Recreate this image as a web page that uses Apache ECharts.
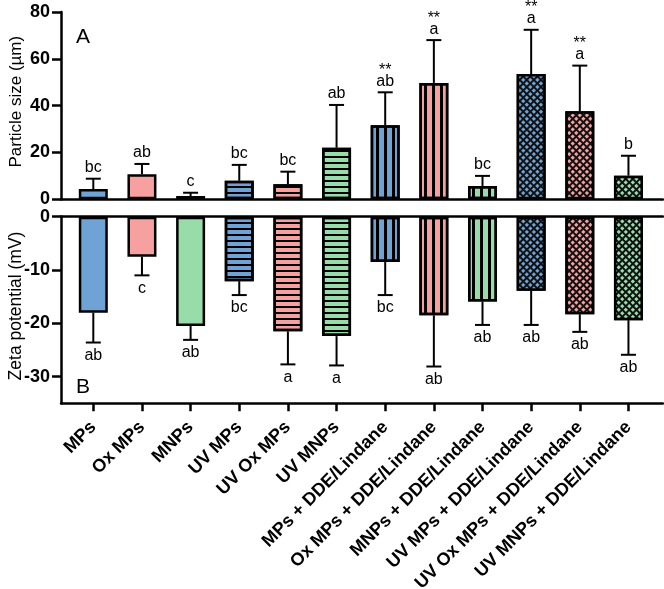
<!DOCTYPE html>
<html><head><meta charset="utf-8">
<script src="https://cdn.jsdelivr.net/npm/echarts@6/dist/echarts.min.js"></script>
<style>html,body{margin:0;padding:0;background:#fff}#c{width:664px;height:589px}</style>
</head><body><div id="c"></div>
<script>
// ---- data ----
const categories = ['MPs','Ox MPs','MNPs','UV MPs','UV Ox MPs','UV MNPs',
  'MPs + DDE/Lindane','Ox MPs + DDE/Lindane','MNPs + DDE/Lindane',
  'UV MPs + DDE/Lindane','UV Ox MPs + DDE/Lindane','UV MNPs + DDE/Lindane'];
const sizeMean = [4.4, 10.7, 1.4, 7.9, 6.4, 22.0, 31.6, 49.7, 5.7, 53.5, 37.6, 10.1];
const sizeSD   = [4.4, 4.4, 1.4, 6.8, 5.4, 18.3, 14.1, 18.3, 4.3, 18.9, 19.5, 8.5];
const sizeLetters = ['bc','ab','c','bc','bc','ab','ab','a','bc','a','a','b'];
const sizeStars   = ['','','','','','','**','**','','**','**',''];
const zetaMean = [-18.0, -7.5, -20.5, -12.1, -21.5, -22.4, -8.5, -18.5, -15.9, -13.9, -18.3, -19.4];
const zetaSD   = [5.6, 3.5, 2.6, 2.6, 6.2, 5.5, 6.2, 9.6, 4.4, 6.4, 3.3, 6.5];
const zetaLetters = ['ab','c','ab','bc','a','a','bc','ab','ab','ab','ab','ab'];
const sizeTicks = [0, 20, 40, 60, 80];
const zetaTicks = [0, -10, -20, -30];

// ---- styling ----
const FONT = '"Liberation Sans", Arial, sans-serif';
const palette = ['#6FA3D6', '#F7A0A0', '#97DDA9'];
const xMin = -0.664, xMax = 11.71;
const catIdx = categories.map((c, i) => i);

function itemStyleFor(i) {
  const c = palette[i % 3];
  const g = Math.floor(i / 3);
  const s = { color: c, borderColor: '#000', borderWidth: 2.5 };
  if (g === 1) s.decal = { symbol: 'rect', symbolSize: 1, color: '#000', dashArrayX: [[10, 0]], dashArrayY: [2, 4] };
  if (g === 2) s.decal = { symbol: 'rect', symbolSize: 1, color: '#000', dashArrayX: [[3, 5]], dashArrayY: [10, 0] };
  if (g === 3) {
    s.color = '#111';
    s.decal = { symbol: 'rect', symbolSize: 1, color: c, dashArrayX: [[3, 2]], dashArrayY: [3, 2], rotation: Math.PI / 4 };
  }
  return s;
}

function barData(means) {
  return means.map((v, i) => ({ value: [i, v], itemStyle: itemStyleFor(i) }));
}
function errData(means, sds) {
  return means.map((v, i) => [i, v, v >= 0 ? v + sds[i] : v - sds[i]]);
}
function errRender(letters, stars, down) {
  return function (params, api) {
    const i = params.dataIndex;
    const x = api.value(0);
    const p0 = api.coord([x, api.value(1)]);
    const p1 = api.coord([x, api.value(2)]);
    const st = { stroke: '#000', lineWidth: 2 };
    const children = [
      { type: 'line', shape: { x1: p0[0], y1: p0[1], x2: p1[0], y2: p1[1] }, style: st },
      { type: 'line', shape: { x1: p1[0] - 7.5, y1: p1[1], x2: p1[0] + 7.5, y2: p1[1] }, style: st },
      { type: 'text', x: p1[0], y: down ? p1[1] + 5 : p1[1] - 3,
        style: { text: letters[i], fill: '#000', font: '16px ' + FONT, align: 'center', verticalAlign: down ? 'top' : 'bottom' } }
    ];
    if (stars && stars[i]) {
      children.push({ type: 'text', x: p1[0], y: p1[1] - 14,
        style: { text: stars[i], fill: '#000', font: '16px ' + FONT, align: 'center', verticalAlign: 'bottom' } });
    }
    return { type: 'group', children };
  };
}

const axisLineStyle = { color: '#000', width: 2.5 };
const hiddenX = (grid, pos) => ({
  gridIndex: grid, type: 'value', min: xMin, max: xMax, position: pos,
  axisLine: { show: true, onZero: false, lineStyle: axisLineStyle },
  axisTick: { show: false }, axisLabel: { show: false }, splitLine: { show: false }
});

const option = {
  animation: false,
  backgroundColor: '#fff',
  title: [
    { text: 'A', left: 76, top: 27, padding: 0, textStyle: { fontSize: 21, fontWeight: 'normal', color: '#000', fontFamily: FONT } },
    { text: 'B', left: 76, top: 377, padding: 0, textStyle: { fontSize: 21, fontWeight: 'normal', color: '#000', fontFamily: FONT } }
  ],
  grid: [
    { left: 61, right: 1, top: 12, height: 187.3, containLabel: false, outerBoundsMode: 'none' },
    { left: 61, right: 1, top: 216.7, height: 186.6, containLabel: false, outerBoundsMode: 'none' }
  ],
  xAxis: [
    hiddenX(0, 'bottom'),
    hiddenX(1, 'top'),
    {
      gridIndex: 1, type: 'value', min: xMin, max: xMax, position: 'bottom',
      axisLine: { show: true, onZero: false, lineStyle: axisLineStyle },
      axisTick: { show: true, length: 8, customValues: catIdx, lineStyle: axisLineStyle },
      axisLabel: { customValues: catIdx, formatter: v => categories[v], rotate: 45, margin: 21,
        fontSize: 18, fontWeight: 'bold', color: '#000', fontFamily: FONT },
      splitLine: { show: false }
    }
  ],
  yAxis: [
    {
      gridIndex: 0, type: 'value', min: 0, max: 80, interval: 20,
      name: 'Particle size (µm)', nameLocation: 'middle', nameGap: 36, nameMoveOverlap: false,
      nameTextStyle: { fontSize: 17, color: '#000', fontFamily: FONT, padding: [0, 0, 0, 8] },
      axisLine: { show: true, onZero: false, lineStyle: axisLineStyle },
      axisTick: { show: true, length: 9, customValues: sizeTicks, lineStyle: axisLineStyle },
      axisLabel: { customValues: sizeTicks, fontSize: 18, fontWeight: 'bold', color: '#000', margin: 11, fontFamily: FONT },
      splitLine: { show: false }
    },
    {
      gridIndex: 1, type: 'value', min: -35, max: 0,
      name: 'Zeta potential (mV)', nameLocation: 'middle', nameGap: 36, nameMoveOverlap: false,
      nameTextStyle: { fontSize: 17.5, color: '#000', fontFamily: FONT, padding: [0, 0, 0, 8] },
      axisLine: { show: true, onZero: false, lineStyle: axisLineStyle },
      axisTick: { show: true, length: 9, customValues: zetaTicks, lineStyle: axisLineStyle },
      axisLabel: { customValues: zetaTicks, fontSize: 18, fontWeight: 'bold', color: '#000', margin: 11, fontFamily: FONT },
      splitLine: { show: false }
    }
  ],
  series: [
    { type: 'bar', xAxisIndex: 0, yAxisIndex: 0, barWidth: 29, data: barData(sizeMean), z: 2 },
    { type: 'bar', xAxisIndex: 2, yAxisIndex: 1, barWidth: 29, data: barData(zetaMean), z: 2 },
    { type: 'custom', xAxisIndex: 0, yAxisIndex: 0, z: 3, renderItem: errRender(sizeLetters, sizeStars, false), data: errData(sizeMean, sizeSD) },
    { type: 'custom', xAxisIndex: 2, yAxisIndex: 1, z: 3, renderItem: errRender(zetaLetters, null, true), data: errData(zetaMean, zetaSD) }
  ]
};
const chart = echarts.init(document.getElementById('c'), null, { renderer: 'canvas' });
chart.setOption(option);
</script>
</body></html>
